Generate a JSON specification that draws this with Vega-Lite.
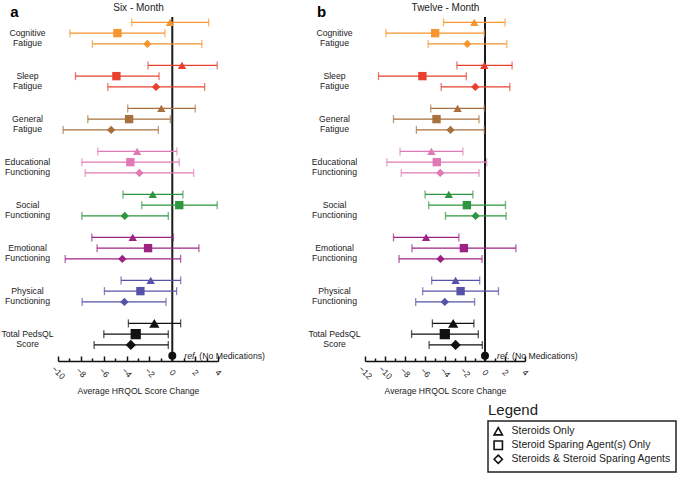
{
  "$schema": "https://vega.github.io/schema/vega-lite/v6.json",
  "background": "white",
  "padding": {"left": 0, "top": 2, "right": 2, "bottom": 2},
  "datasets": {
    "six": [
      {"measure": "Cognitive Fatigue", "treatment": "Steroids Only", "est": -0.2, "lo": -3.55, "hi": 3.18},
      {"measure": "Cognitive Fatigue", "treatment": "Steroid Sparing Agent(s) Only", "est": -4.8, "lo": -8.96, "hi": -0.64},
      {"measure": "Cognitive Fatigue", "treatment": "Steroids & Steroid Sparing Agents", "est": -2.18, "lo": -6.99, "hi": 2.59},
      {"measure": "Sleep Fatigue", "treatment": "Steroids Only", "est": 0.85, "lo": -2.12, "hi": 3.93},
      {"measure": "Sleep Fatigue", "treatment": "Steroid Sparing Agent(s) Only", "est": -4.89, "lo": -8.47, "hi": -1.16},
      {"measure": "Sleep Fatigue", "treatment": "Steroids & Steroid Sparing Agents", "est": -1.42, "lo": -5.64, "hi": 2.83},
      {"measure": "General Fatigue", "treatment": "Steroids Only", "est": -0.96, "lo": -3.9, "hi": 2.01},
      {"measure": "General Fatigue", "treatment": "Steroid Sparing Agent(s) Only", "est": -3.78, "lo": -7.39, "hi": -0.17},
      {"measure": "General Fatigue", "treatment": "Steroids & Steroid Sparing Agents", "est": -5.35, "lo": -9.55, "hi": -1.22},
      {"measure": "Educational Functioning", "treatment": "Steroids Only", "est": -3.08, "lo": -6.52, "hi": 0.41},
      {"measure": "Educational Functioning", "treatment": "Steroid Sparing Agent(s) Only", "est": -3.67, "lo": -7.91, "hi": 0.61},
      {"measure": "Educational Functioning", "treatment": "Steroids & Steroid Sparing Agents", "est": -2.88, "lo": -7.62, "hi": 1.87},
      {"measure": "Social Functioning", "treatment": "Steroids Only", "est": -1.71, "lo": -4.31, "hi": 0.93},
      {"measure": "Social Functioning", "treatment": "Steroid Sparing Agent(s) Only", "est": 0.61, "lo": -2.67, "hi": 3.93},
      {"measure": "Social Functioning", "treatment": "Steroids & Steroid Sparing Agents", "est": -4.16, "lo": -7.91, "hi": -0.35},
      {"measure": "Emotional Functioning", "treatment": "Steroids Only", "est": -3.46, "lo": -7.04, "hi": 0.09},
      {"measure": "Emotional Functioning", "treatment": "Steroid Sparing Agent(s) Only", "est": -2.12, "lo": -6.58, "hi": 2.33},
      {"measure": "Emotional Functioning", "treatment": "Steroids & Steroid Sparing Agents", "est": -4.37, "lo": -9.37, "hi": 0.73},
      {"measure": "Physical Functioning", "treatment": "Steroids Only", "est": -1.89, "lo": -4.48, "hi": 0.73},
      {"measure": "Physical Functioning", "treatment": "Steroid Sparing Agent(s) Only", "est": -2.79, "lo": -5.94, "hi": 0.38},
      {"measure": "Physical Functioning", "treatment": "Steroids & Steroid Sparing Agents", "est": -4.19, "lo": -7.89, "hi": -0.55},
      {"measure": "Total PedsQL Score", "treatment": "Steroids Only", "est": -1.57, "lo": -3.84, "hi": 0.73},
      {"measure": "Total PedsQL Score", "treatment": "Steroid Sparing Agent(s) Only", "est": -3.2, "lo": -5.99, "hi": -0.35},
      {"measure": "Total PedsQL Score", "treatment": "Steroids & Steroid Sparing Agents", "est": -3.63, "lo": -6.84, "hi": -0.35},
      {"measure": "Total PedsQL Score", "treatment": "ref", "est": 0}
    ],
    "twelve": [
      {"measure": "Cognitive Fatigue", "treatment": "Steroids Only", "est": -1.07, "lo": -4.15, "hi": 2.01},
      {"measure": "Cognitive Fatigue", "treatment": "Steroid Sparing Agent(s) Only", "est": -4.98, "lo": -9.91, "hi": -0.07},
      {"measure": "Cognitive Fatigue", "treatment": "Steroids & Steroid Sparing Agents", "est": -1.77, "lo": -5.69, "hi": 2.18},
      {"measure": "Sleep Fatigue", "treatment": "Steroids Only", "est": -0.07, "lo": -2.81, "hi": 2.71},
      {"measure": "Sleep Fatigue", "treatment": "Steroid Sparing Agent(s) Only", "est": -6.26, "lo": -10.65, "hi": -1.87},
      {"measure": "Sleep Fatigue", "treatment": "Steroids & Steroid Sparing Agents", "est": -0.97, "lo": -4.38, "hi": 2.48},
      {"measure": "General Fatigue", "treatment": "Steroids Only", "est": -2.74, "lo": -5.43, "hi": -0.07},
      {"measure": "General Fatigue", "treatment": "Steroid Sparing Agent(s) Only", "est": -4.85, "lo": -9.15, "hi": -0.6},
      {"measure": "General Fatigue", "treatment": "Steroids & Steroid Sparing Agents", "est": -3.45, "lo": -6.86, "hi": -0.07},
      {"measure": "Educational Functioning", "treatment": "Steroids Only", "est": -5.36, "lo": -8.5, "hi": -2.21},
      {"measure": "Educational Functioning", "treatment": "Steroid Sparing Agent(s) Only", "est": -4.82, "lo": -9.81, "hi": 0.17},
      {"measure": "Educational Functioning", "treatment": "Steroids & Steroid Sparing Agents", "est": -4.48, "lo": -8.37, "hi": -0.6},
      {"measure": "Social Functioning", "treatment": "Steroids Only", "est": -3.62, "lo": -5.99, "hi": -1.21},
      {"measure": "Social Functioning", "treatment": "Steroid Sparing Agent(s) Only", "est": -1.81, "lo": -5.63, "hi": 2.05},
      {"measure": "Social Functioning", "treatment": "Steroids & Steroid Sparing Agents", "est": -0.94, "lo": -3.95, "hi": 2.11},
      {"measure": "Emotional Functioning", "treatment": "Steroids Only", "est": -5.89, "lo": -9.15, "hi": -2.61},
      {"measure": "Emotional Functioning", "treatment": "Steroid Sparing Agent(s) Only", "est": -2.11, "lo": -7.3, "hi": 3.09},
      {"measure": "Emotional Functioning", "treatment": "Steroids & Steroid Sparing Agents", "est": -4.45, "lo": -8.6, "hi": -0.3},
      {"measure": "Physical Functioning", "treatment": "Steroids Only", "est": -2.94, "lo": -5.33, "hi": -0.53},
      {"measure": "Physical Functioning", "treatment": "Steroid Sparing Agent(s) Only", "est": -2.44, "lo": -6.23, "hi": 1.35},
      {"measure": "Physical Functioning", "treatment": "Steroids & Steroid Sparing Agents", "est": -4.02, "lo": -6.93, "hi": -1.04},
      {"measure": "Total PedsQL Score", "treatment": "Steroids Only", "est": -3.18, "lo": -5.26, "hi": -1.11},
      {"measure": "Total PedsQL Score", "treatment": "Steroid Sparing Agent(s) Only", "est": -4.02, "lo": -7.34, "hi": -0.67},
      {"measure": "Total PedsQL Score", "treatment": "Steroids & Steroid Sparing Agents", "est": -2.94, "lo": -5.59, "hi": -0.27},
      {"measure": "Total PedsQL Score", "treatment": "ref", "est": 0}
    ]
  },
  "spacing": 147,
  "bounds": "flush",
  "hconcat": [
    {
      "width": 160,
      "height": 344,
      "data": {"name": "six"},
      "resolve": {"axis": {"x": "independent"}},
      "layer": [
        {
          "data": {"values": [{"lg": "Legend"}]},
          "mark": {"type": "rule", "color": "#1a1a1a", "strokeWidth": 2},
          "encoding": {
            "x": {"datum": 0, "type": "quantitative", "scale": {"domain": [-10, 4], "nice": false, "zero": false},
              "axis": {"orient": "bottom", "values": [-9, -7, -5, -3, -1, 1, 3], "labels": false, "domain": false, "title": null, "tickSize": -3}}
          }
        },
        {
          "transform": [{"filter": "datum.treatment !== 'ref'"}],
          "mark": {"type": "rule", "strokeWidth": 1.3},
          "encoding": {
            "x": {"field": "lo", "type": "quantitative", "scale": {"domain": [-10, 4], "nice": false, "zero": false},
              "axis": {"orient": "bottom", "values": [-10, -8, -6, -4, -2, 0, 2, 4], "title": "Average HRQOL Score Change"}},
            "x2": {"field": "hi"},
            "y": {"field": "measure", "type": "nominal", "scale": {"type": "band", "domain": ["Cognitive Fatigue", "Sleep Fatigue", "General Fatigue", "Educational Functioning", "Social Functioning", "Emotional Functioning", "Physical Functioning", "Total PedsQL Score"], "paddingInner": 0, "paddingOuter": 0},
              "axis": {"title": "a", "titleX": -44, "labelExpr": "datum.label === 'Total PedsQL Score' ? ['Total PedsQL', 'Score'] : split(datum.label, ' ')"}},
            "yOffset": {"field": "treatment", "type": "nominal", "scale": {"domain": ["Steroids Only", "Steroid Sparing Agent(s) Only", "Steroids & Steroid Sparing Agents", "ref"], "paddingInner": 0, "paddingOuter": 0}},
            "color": {"field": "measure", "type": "nominal", "scale": {"domain": ["Cognitive Fatigue", "Sleep Fatigue", "General Fatigue", "Educational Functioning", "Social Functioning", "Emotional Functioning", "Physical Functioning", "Total PedsQL Score"], "range": ["#F5962F", "#E8402F", "#A8703E", "#E07AB6", "#2E963E", "#9C2284", "#5552A8", "#111111"]}, "legend": null}
          }
        },
        {
          "transform": [{"filter": "datum.treatment !== 'ref'"}],
          "mark": {"type": "tick", "thickness": 1.3, "size": 8, "orient": "vertical"},
          "encoding": {
            "x": {"field": "lo", "type": "quantitative", "scale": {"domain": [-10, 4], "nice": false, "zero": false}, "axis": null},
            "y": {"field": "measure", "type": "nominal", "scale": {"type": "band", "domain": ["Cognitive Fatigue", "Sleep Fatigue", "General Fatigue", "Educational Functioning", "Social Functioning", "Emotional Functioning", "Physical Functioning", "Total PedsQL Score"], "paddingInner": 0, "paddingOuter": 0},
              "axis": {"title": "a", "titleX": -44, "labelExpr": "datum.label === 'Total PedsQL Score' ? ['Total PedsQL', 'Score'] : split(datum.label, ' ')"}},
            "yOffset": {"field": "treatment", "type": "nominal", "scale": {"domain": ["Steroids Only", "Steroid Sparing Agent(s) Only", "Steroids & Steroid Sparing Agents", "ref"], "paddingInner": 0, "paddingOuter": 0}},
            "color": {"field": "measure", "type": "nominal", "legend": null}
          }
        },
        {
          "transform": [{"filter": "datum.treatment !== 'ref'"}],
          "mark": {"type": "tick", "thickness": 1.3, "size": 8, "orient": "vertical"},
          "encoding": {
            "x": {"field": "hi", "type": "quantitative", "scale": {"domain": [-10, 4], "nice": false, "zero": false},
              "axis": {"orient": "top", "title": "Six - Month", "labels": false, "ticks": false, "domain": false, "titleFontSize": 10, "titlePadding": 5, "titleFontWeight": "normal"}},
            "y": {"field": "measure", "type": "nominal", "scale": {"type": "band", "domain": ["Cognitive Fatigue", "Sleep Fatigue", "General Fatigue", "Educational Functioning", "Social Functioning", "Emotional Functioning", "Physical Functioning", "Total PedsQL Score"], "paddingInner": 0, "paddingOuter": 0},
              "axis": {"title": "a", "titleX": -44, "labelExpr": "datum.label === 'Total PedsQL Score' ? ['Total PedsQL', 'Score'] : split(datum.label, ' ')"}},
            "yOffset": {"field": "treatment", "type": "nominal", "scale": {"domain": ["Steroids Only", "Steroid Sparing Agent(s) Only", "Steroids & Steroid Sparing Agents", "ref"], "paddingInner": 0, "paddingOuter": 0}},
            "color": {"field": "measure", "type": "nominal", "legend": null}
          }
        },
        {
          "mark": {"type": "point", "filled": true, "opacity": 1},
          "encoding": {
            "x": {"field": "est", "type": "quantitative", "scale": {"domain": [-10, 4], "nice": false, "zero": false}, "axis": null},
            "y": {"field": "measure", "type": "nominal", "scale": {"type": "band", "domain": ["Cognitive Fatigue", "Sleep Fatigue", "General Fatigue", "Educational Functioning", "Social Functioning", "Emotional Functioning", "Physical Functioning", "Total PedsQL Score"], "paddingInner": 0, "paddingOuter": 0},
              "axis": {"title": "a", "titleX": -44, "labelExpr": "datum.label === 'Total PedsQL Score' ? ['Total PedsQL', 'Score'] : split(datum.label, ' ')"}},
            "yOffset": {"field": "treatment", "type": "nominal", "scale": {"domain": ["Steroids Only", "Steroid Sparing Agent(s) Only", "Steroids & Steroid Sparing Agents", "ref"], "paddingInner": 0, "paddingOuter": 0}},
            "color": {"field": "measure", "type": "nominal", "legend": null},
            "shape": {"field": "treatment", "type": "nominal", "scale": {"domain": ["Steroids Only", "Steroid Sparing Agent(s) Only", "Steroids & Steroid Sparing Agents", "ref"], "range": ["triangle-up", "square", "diamond", "circle"]},
              "legend": {"title": null, "values": ["Steroids Only", "Steroid Sparing Agent(s) Only", "Steroids & Steroid Sparing Agents"], "orient": "none", "legendX": 430, "legendY": 404, "direction": "vertical", "strokeColor": "#222222", "padding": 5, "symbolFillColor": "white", "symbolStrokeColor": "#111111", "symbolStrokeWidth": 1.6, "symbolSize": 70, "labelFontSize": 10.5, "labelColor": "#222222", "rowPadding": -2, "labelOffset": 8, "labelLimit": 300}},
            "size": {"condition": [{"test": "datum.treatment === 'ref'", "value": 64}, {"test": "datum.measure === 'Total PedsQL Score'", "value": 105}], "value": 70}
          }
        },
        {
          "transform": [{"filter": "datum.treatment === 'ref'"}],
          "mark": {"type": "text", "align": "left", "baseline": "middle", "dx": 12, "fontStyle": "italic", "fontSize": 8.7, "color": "#222222"},
          "encoding": {
            "x": {"field": "est", "type": "quantitative", "scale": {"domain": [-10, 4], "nice": false, "zero": false}, "axis": null},
            "y": {"field": "measure", "type": "nominal", "scale": {"type": "band", "domain": ["Cognitive Fatigue", "Sleep Fatigue", "General Fatigue", "Educational Functioning", "Social Functioning", "Emotional Functioning", "Physical Functioning", "Total PedsQL Score"], "paddingInner": 0, "paddingOuter": 0},
              "axis": {"title": "a", "titleX": -44, "labelExpr": "datum.label === 'Total PedsQL Score' ? ['Total PedsQL', 'Score'] : split(datum.label, ' ')"}},
            "yOffset": {"field": "treatment", "type": "nominal", "scale": {"domain": ["Steroids Only", "Steroid Sparing Agent(s) Only", "Steroids & Steroid Sparing Agents", "ref"], "paddingInner": 0, "paddingOuter": 0}},
            "text": {"value": "ref."}
          }
        },
        {
          "transform": [{"filter": "datum.treatment === 'ref'"}],
          "mark": {"type": "text", "align": "left", "baseline": "middle", "dx": 27, "fontSize": 8.7, "color": "#222222"},
          "encoding": {
            "x": {"field": "est", "type": "quantitative", "scale": {"domain": [-10, 4], "nice": false, "zero": false}, "axis": null},
            "y": {"field": "measure", "type": "nominal", "scale": {"type": "band", "domain": ["Cognitive Fatigue", "Sleep Fatigue", "General Fatigue", "Educational Functioning", "Social Functioning", "Emotional Functioning", "Physical Functioning", "Total PedsQL Score"], "paddingInner": 0, "paddingOuter": 0},
              "axis": {"title": "a", "titleX": -44, "labelExpr": "datum.label === 'Total PedsQL Score' ? ['Total PedsQL', 'Score'] : split(datum.label, ' ')"}},
            "yOffset": {"field": "treatment", "type": "nominal", "scale": {"domain": ["Steroids Only", "Steroid Sparing Agent(s) Only", "Steroids & Steroid Sparing Agents", "ref"], "paddingInner": 0, "paddingOuter": 0}},
            "text": {"value": "(No Medications)"}
          }
        }
      ]
    },
    {
      "width": 160,
      "height": 344,
      "data": {"name": "twelve"},
      "resolve": {"axis": {"x": "independent"}},
      "layer": [
        {
          "data": {"values": [{"lg": "Legend"}]},
          "mark": {"type": "rule", "color": "#1a1a1a", "strokeWidth": 2},
          "encoding": {
            "x": {"datum": 0, "type": "quantitative", "scale": {"domain": [-12, 4], "nice": false, "zero": false},
              "axis": {"orient": "bottom", "values": [-11, -9, -7, -5, -3, -1, 1, 3], "labels": false, "domain": false, "title": null, "tickSize": -3}},
            "strokeDash": {"field": "lg", "type": "nominal", "scale": {"range": [[1, 0]]},
              "legend": {"title": "Legend", "orient": "none", "legendX": 430, "legendY": 386, "titleFontSize": 15, "titleFontWeight": "normal", "titleColor": "#222222", "titlePadding": 0, "padding": 0, "symbolOpacity": 0, "labelOpacity": 0, "labelFontSize": 1, "symbolSize": 1}}
          }
        },
        {
          "transform": [{"filter": "datum.treatment !== 'ref'"}],
          "mark": {"type": "rule", "strokeWidth": 1.3},
          "encoding": {
            "x": {"field": "lo", "type": "quantitative", "scale": {"domain": [-12, 4], "nice": false, "zero": false},
              "axis": {"orient": "bottom", "values": [-12, -10, -8, -6, -4, -2, 0, 2, 4], "title": "Average HRQOL Score Change"}},
            "x2": {"field": "hi"},
            "y": {"field": "measure", "type": "nominal", "scale": {"type": "band", "domain": ["Cognitive Fatigue", "Sleep Fatigue", "General Fatigue", "Educational Functioning", "Social Functioning", "Emotional Functioning", "Physical Functioning", "Total PedsQL Score"], "paddingInner": 0, "paddingOuter": 0},
              "axis": {"title": "b", "titleX": -44, "labelExpr": "datum.label === 'Total PedsQL Score' ? ['Total PedsQL', 'Score'] : split(datum.label, ' ')"}},
            "yOffset": {"field": "treatment", "type": "nominal", "scale": {"domain": ["Steroids Only", "Steroid Sparing Agent(s) Only", "Steroids & Steroid Sparing Agents", "ref"], "paddingInner": 0, "paddingOuter": 0}},
            "color": {"field": "measure", "type": "nominal", "legend": null}
          }
        },
        {
          "transform": [{"filter": "datum.treatment !== 'ref'"}],
          "mark": {"type": "tick", "thickness": 1.3, "size": 8, "orient": "vertical"},
          "encoding": {
            "x": {"field": "lo", "type": "quantitative", "scale": {"domain": [-12, 4], "nice": false, "zero": false}, "axis": null},
            "y": {"field": "measure", "type": "nominal", "scale": {"type": "band", "domain": ["Cognitive Fatigue", "Sleep Fatigue", "General Fatigue", "Educational Functioning", "Social Functioning", "Emotional Functioning", "Physical Functioning", "Total PedsQL Score"], "paddingInner": 0, "paddingOuter": 0},
              "axis": {"title": "b", "titleX": -44, "labelExpr": "datum.label === 'Total PedsQL Score' ? ['Total PedsQL', 'Score'] : split(datum.label, ' ')"}},
            "yOffset": {"field": "treatment", "type": "nominal", "scale": {"domain": ["Steroids Only", "Steroid Sparing Agent(s) Only", "Steroids & Steroid Sparing Agents", "ref"], "paddingInner": 0, "paddingOuter": 0}},
            "color": {"field": "measure", "type": "nominal", "legend": null}
          }
        },
        {
          "transform": [{"filter": "datum.treatment !== 'ref'"}],
          "mark": {"type": "tick", "thickness": 1.3, "size": 8, "orient": "vertical"},
          "encoding": {
            "x": {"field": "hi", "type": "quantitative", "scale": {"domain": [-12, 4], "nice": false, "zero": false},
              "axis": {"orient": "top", "title": "Twelve - Month", "labels": false, "ticks": false, "domain": false, "titleFontSize": 10, "titlePadding": 5, "titleFontWeight": "normal"}},
            "y": {"field": "measure", "type": "nominal", "scale": {"type": "band", "domain": ["Cognitive Fatigue", "Sleep Fatigue", "General Fatigue", "Educational Functioning", "Social Functioning", "Emotional Functioning", "Physical Functioning", "Total PedsQL Score"], "paddingInner": 0, "paddingOuter": 0},
              "axis": {"title": "b", "titleX": -44, "labelExpr": "datum.label === 'Total PedsQL Score' ? ['Total PedsQL', 'Score'] : split(datum.label, ' ')"}},
            "yOffset": {"field": "treatment", "type": "nominal", "scale": {"domain": ["Steroids Only", "Steroid Sparing Agent(s) Only", "Steroids & Steroid Sparing Agents", "ref"], "paddingInner": 0, "paddingOuter": 0}},
            "color": {"field": "measure", "type": "nominal", "legend": null}
          }
        },
        {
          "mark": {"type": "point", "filled": true, "opacity": 1},
          "encoding": {
            "x": {"field": "est", "type": "quantitative", "scale": {"domain": [-12, 4], "nice": false, "zero": false}, "axis": null},
            "y": {"field": "measure", "type": "nominal", "scale": {"type": "band", "domain": ["Cognitive Fatigue", "Sleep Fatigue", "General Fatigue", "Educational Functioning", "Social Functioning", "Emotional Functioning", "Physical Functioning", "Total PedsQL Score"], "paddingInner": 0, "paddingOuter": 0},
              "axis": {"title": "b", "titleX": -44, "labelExpr": "datum.label === 'Total PedsQL Score' ? ['Total PedsQL', 'Score'] : split(datum.label, ' ')"}},
            "yOffset": {"field": "treatment", "type": "nominal", "scale": {"domain": ["Steroids Only", "Steroid Sparing Agent(s) Only", "Steroids & Steroid Sparing Agents", "ref"], "paddingInner": 0, "paddingOuter": 0}},
            "color": {"field": "measure", "type": "nominal", "legend": null},
            "shape": {"field": "treatment", "type": "nominal",
              "legend": {"title": null, "values": ["Steroids Only", "Steroid Sparing Agent(s) Only", "Steroids & Steroid Sparing Agents"], "orient": "none", "legendX": 430, "legendY": 404, "direction": "vertical", "strokeColor": "#222222", "padding": 5, "symbolFillColor": "white", "symbolStrokeColor": "#111111", "symbolStrokeWidth": 1.6, "symbolSize": 70, "labelFontSize": 10.5, "labelColor": "#222222", "rowPadding": -2, "labelOffset": 8, "labelLimit": 300}},
            "size": {"condition": [{"test": "datum.treatment === 'ref'", "value": 64}, {"test": "datum.measure === 'Total PedsQL Score'", "value": 105}], "value": 70}
          }
        },
        {
          "transform": [{"filter": "datum.treatment === 'ref'"}],
          "mark": {"type": "text", "align": "left", "baseline": "middle", "dx": 12, "fontStyle": "italic", "fontSize": 8.7, "color": "#222222"},
          "encoding": {
            "x": {"field": "est", "type": "quantitative", "scale": {"domain": [-12, 4], "nice": false, "zero": false}, "axis": null},
            "y": {"field": "measure", "type": "nominal", "scale": {"type": "band", "domain": ["Cognitive Fatigue", "Sleep Fatigue", "General Fatigue", "Educational Functioning", "Social Functioning", "Emotional Functioning", "Physical Functioning", "Total PedsQL Score"], "paddingInner": 0, "paddingOuter": 0},
              "axis": {"title": "b", "titleX": -44, "labelExpr": "datum.label === 'Total PedsQL Score' ? ['Total PedsQL', 'Score'] : split(datum.label, ' ')"}},
            "yOffset": {"field": "treatment", "type": "nominal", "scale": {"domain": ["Steroids Only", "Steroid Sparing Agent(s) Only", "Steroids & Steroid Sparing Agents", "ref"], "paddingInner": 0, "paddingOuter": 0}},
            "text": {"value": "ref."}
          }
        },
        {
          "transform": [{"filter": "datum.treatment === 'ref'"}],
          "mark": {"type": "text", "align": "left", "baseline": "middle", "dx": 27, "fontSize": 8.7, "color": "#222222"},
          "encoding": {
            "x": {"field": "est", "type": "quantitative", "scale": {"domain": [-12, 4], "nice": false, "zero": false}, "axis": null},
            "y": {"field": "measure", "type": "nominal", "scale": {"type": "band", "domain": ["Cognitive Fatigue", "Sleep Fatigue", "General Fatigue", "Educational Functioning", "Social Functioning", "Emotional Functioning", "Physical Functioning", "Total PedsQL Score"], "paddingInner": 0, "paddingOuter": 0},
              "axis": {"title": "b", "titleX": -44, "labelExpr": "datum.label === 'Total PedsQL Score' ? ['Total PedsQL', 'Score'] : split(datum.label, ' ')"}},
            "yOffset": {"field": "treatment", "type": "nominal", "scale": {"domain": ["Steroids Only", "Steroid Sparing Agent(s) Only", "Steroids & Steroid Sparing Agents", "ref"], "paddingInner": 0, "paddingOuter": 0}},
            "text": {"value": "(No Medications)"}
          }
        }
      ]
    }
  ],
  "config": {
    "view": {"stroke": null},
    "font": "Liberation Sans",
    "axis": {"grid": false, "labelFont": "Liberation Sans", "titleFont": "Liberation Sans", "labelColor": "#222222", "titleColor": "#222222", "domainColor": "#111111", "tickColor": "#111111"},
    "axisX": {"domainWidth": 1.5, "tickWidth": 1.5, "tickSize": -5, "labelAngle": 45, "labelAlign": "center", "labelBaseline": "middle", "labelPadding": 16, "labelFontSize": 8.5, "labelFlush": false, "labelOverlap": false, "titleFontSize": 8.6, "titleFontWeight": "normal", "titlePadding": 6},
    "axisY": {"domain": false, "ticks": false, "labelPadding": 31, "labelAlign": "center", "labelBaseline": "middle", "labelOffset": -5.4, "labelFontSize": 8.7, "labelLineHeight": 10, "titleAngle": 0, "titleFontSize": 15, "titleFontWeight": "bold", "titleY": -1, "titleAlign": "center", "titleBaseline": "alphabetic", "titleColor": "#000000"},
    "legend": {"strokeWidth": 1.5, "labelFont": "Liberation Sans", "titleFont": "Liberation Sans"}
  }
}
